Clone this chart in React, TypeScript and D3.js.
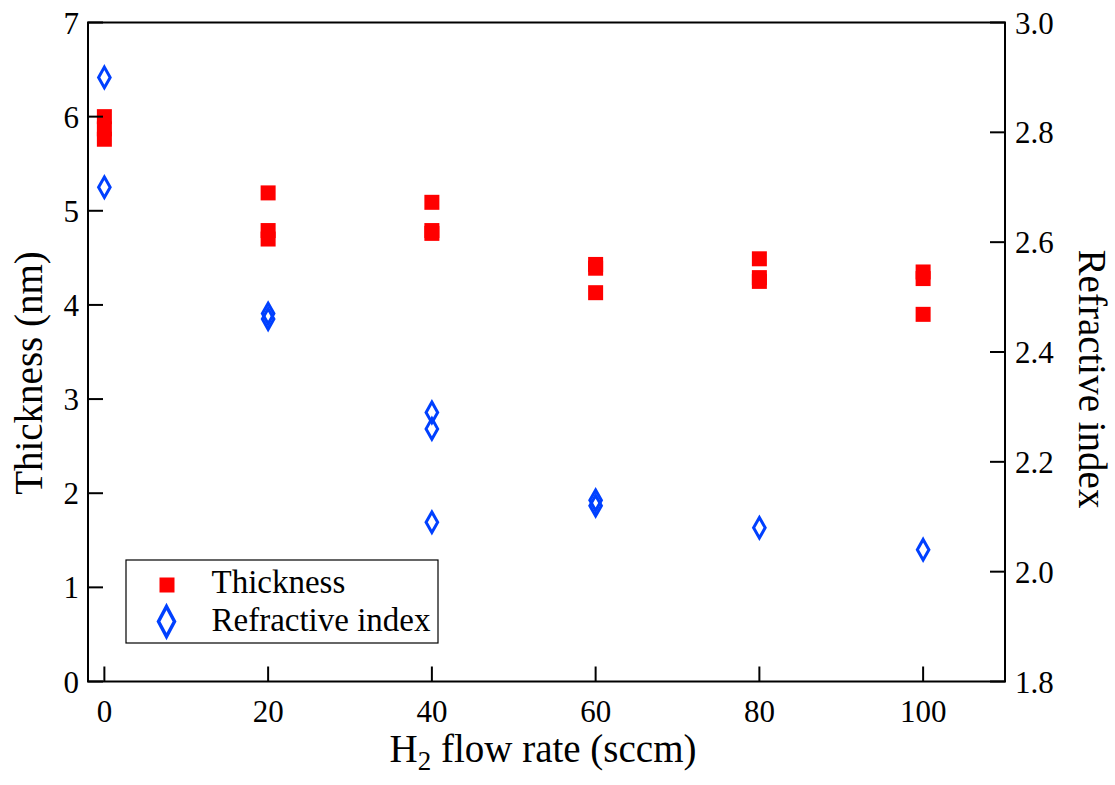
import React from "react";
import * as d3 from "d3";

const thicknessX = [0, 0, 0, 20, 20, 20, 40, 40, 40, 60, 60, 60, 80, 80, 80, 100, 100, 100];
const thicknessY = [6.0, 5.87, 5.76, 5.19, 4.79, 4.7, 5.09, 4.79, 4.76, 4.43, 4.39, 4.13, 4.49, 4.29, 4.25, 4.35, 4.28, 3.9];
const refractiveX = [0, 0, 20, 20, 40, 40, 40, 60, 60, 80, 100];
const refractiveY = [2.9, 2.7, 2.47, 2.46, 2.29, 2.26, 2.09, 2.13, 2.12, 2.08, 2.04];
const xTicks = [0, 20, 40, 60, 80, 100];
const yLeftTicks = [0, 1, 2, 3, 4, 5, 6, 7];
const yRightTicks = [1.8, 2.0, 2.2, 2.4, 2.6, 2.8, 3.0];

const W = 1115;
const H = 785;
const L = 88, R = 1005, T = 22.5, B = 681.5;
const RED = "#ff0000";
const BLUE = "#0040ff";
const FONT = "'Liberation Serif', 'Times New Roman', serif";

export default function App() {
  const x = d3.scaleLinear().domain([-2, 110]).range([L, R]);
  const yL = d3.scaleLinear().domain([0, 7]).range([B, T]);
  const yR = d3.scaleLinear().domain([1.8, 3.0]).range([B, T]);
  const tick = 15;
  const sq = 15;
  const diamond = (cx: number, cy: number, hw: number, hh: number) => {
    const p = d3.path();
    p.moveTo(cx, cy - hh);
    p.lineTo(cx + hw, cy);
    p.lineTo(cx, cy + hh);
    p.lineTo(cx - hw, cy);
    p.closePath();
    return p.toString();
  };

  return (
    <svg width={W} height={H} style={{ position: "absolute", left: 0, top: 0, background: "#fff" }} fontFamily={FONT}>
      {/* markers */}
      {thicknessX.map((v, i) => (
        <rect key={"t" + i} x={x(v) - sq / 2} y={yL(thicknessY[i]) - sq / 2} width={sq} height={sq} fill={RED} />
      ))}
      {refractiveX.map((v, i) => (
        <path key={"r" + i} d={diamond(x(v), yR(refractiveY[i]), 5.8, 10.3)} fill="none" stroke={BLUE} strokeWidth={3} />
      ))}

      {/* frame */}
      <rect x={L} y={T} width={R - L} height={B - T} fill="none" stroke="#000" strokeWidth={2} />

      {/* x ticks */}
      {xTicks.map((t) => (
        <g key={"x" + t}>
          <line x1={x(t)} x2={x(t)} y1={B} y2={B - tick} stroke="#000" strokeWidth={2} />
          <text x={x(t)} y={721.5} fontSize={31} textAnchor="middle" fill="#000">{t}</text>
        </g>
      ))}
      {/* left ticks */}
      {yLeftTicks.map((t) => (
        <g key={"yl" + t}>
          <line x1={L} x2={L + tick} y1={yL(t)} y2={yL(t)} stroke="#000" strokeWidth={2} />
          <text x={79} y={yL(t) + 11} fontSize={31} textAnchor="end" fill="#000">{t}</text>
        </g>
      ))}
      {/* right ticks */}
      {yRightTicks.map((t) => (
        <g key={"yr" + t}>
          <line x1={R} x2={R - tick} y1={yR(t)} y2={yR(t)} stroke="#000" strokeWidth={2} />
          <text x={1015} y={yR(t) + 11} fontSize={31} textAnchor="start" fill="#000">{t.toFixed(1)}</text>
        </g>
      ))}

      {/* axis titles */}
      <text x={543} y={761.5} fontSize={39} textAnchor="middle" fill="#000">
        H<tspan fontSize={27} dy={8}>2</tspan><tspan dy={-8}> flow rate (sccm)</tspan>
      </text>
      <text transform={`translate(42,373) rotate(-90)`} fontSize={39} textAnchor="middle" fill="#000">Thickness (nm)</text>
      <text transform={`translate(1079,379) rotate(90)`} fontSize={39} textAnchor="middle" fill="#000">Refractive index</text>

      {/* legend */}
      <rect x={126} y={560} width={312} height={83} fill="#fff" stroke="#000" strokeWidth={1.2} />
      <rect x={159.5} y={577.5} width={15} height={15} fill={RED} />
      <path d={diamond(166.5, 621.5, 8, 15)} fill="none" stroke={BLUE} strokeWidth={3.5} />
      <text x={211.5} y={593} fontSize={33} fill="#000">Thickness</text>
      <text x={211.5} y={630.5} fontSize={33} fill="#000">Refractive index</text>
    </svg>
  );
}
